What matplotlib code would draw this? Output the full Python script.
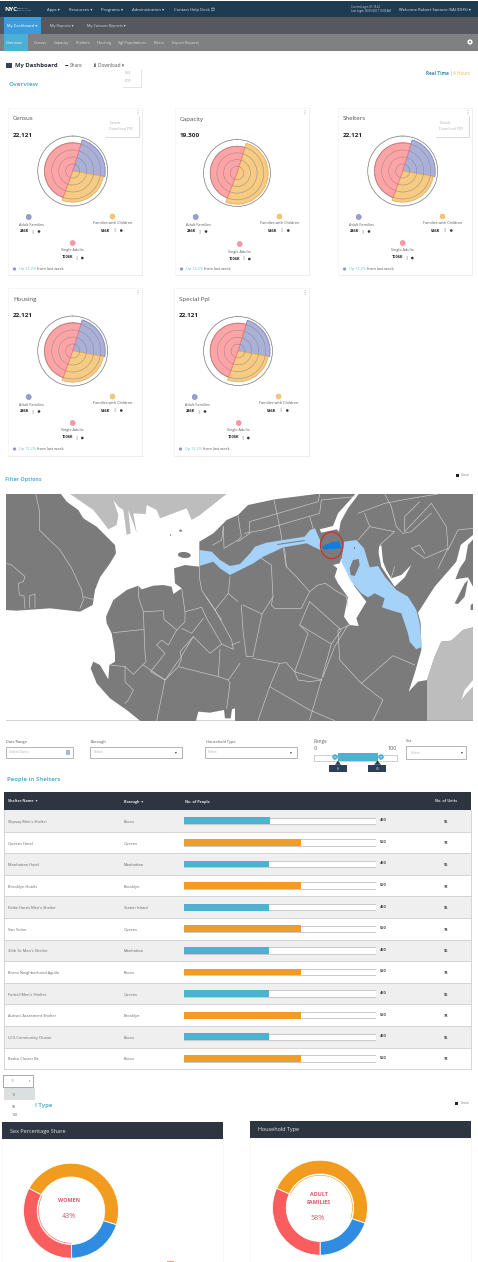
import matplotlib
matplotlib.use('Agg')
import matplotlib.pyplot as plt
from matplotlib.patches import Rectangle, Polygon, Ellipse, Circle
import numpy as np

plt.rcParams['font.family'] = ['Open Sans', 'DejaVu Sans']
W, H = 478, 1262

# ---- data ----
rose_titles = ['Census', 'Capacity', 'Shelters', 'Housing', 'Special Ppl']
rose_totals = ['22,121', '19,300', '22,121', '22,121', '22,121']
rose_start = 17
rose_adult_deg = [83, 0, 83, 83, 83]
rose_family_deg = [100, 184, 100, 100, 100]
rose_single_deg = [177, 176, 177, 177, 177]
rose_adult_r = [93, 93, 93, 93, 93]
rose_family_r = [89, 93, 89, 89, 89]
rose_single_r = [81, 80, 81, 81, 81]
legend_names = ['Adult Families', 'Families with Children', 'Single Adults']
legend_values = ['246K', '546K', '1006K']

shelter_names = ["Skyway Men's Shelter", 'Queens Hotel', 'Manhattan Hotel', 'Brooklyn Hotels',
                 "Eddie Harris Men's Shelter", 'Van Siclen', "30th St. Men's Shelter",
                 'Bronx Neighborhood Aguila', "Forbell Men's Shelter", 'Autistic Assesment Shelter',
                 'LCG Community Cluster', 'Bedco Cluster Bx']
shelter_boroughs = ['Bronx', 'Queens', 'Manhattan', 'Brooklyn', 'Staten Island', 'Queens',
                    'Manhattan', 'Bronx', 'Queens', 'Brooklyn', 'Bronx', 'Bronx']
shelter_people = [450, 550, 450, 550, 450, 550, 450, 550, 450, 550, 450, 550]
shelter_fill_pct = [44.6, 61, 44.4, 60.8, 44.3, 60.7, 44.2, 60.7, 44.2, 60.7, 44.3, 60.8]
shelter_units = [96, 78, 96, 78, 96, 78, 96, 78, 96, 78, 96, 78]

sex_share = [47, 20, 33]
household_share = [48.6, 19.7, 31.7]
donut_colors = ['#f29c1f', '#2f8ce0', '#f95d5d']

# ---- helpers ----
fig = plt.figure(figsize=(W / 100, H / 100), dpi=100, facecolor='white')
ax = fig.add_axes([0, 0, 1, 1], zorder=0)
ax.set_xlim(0, W); ax.set_ylim(H, 0); ax.axis('off')

def R(x0, y0, x1, y1, fc, ec='none', lw=0, z=1, target=None):
    (target or ax).add_patch(Rectangle((x0, y0), x1 - x0, y1 - y0, fc=fc, ec=ec, lw=lw, zorder=z))

def T(x, y, s, size=3, color='#444444', weight='normal', ha='left', z=5, target=None):
    (target or ax).text(x, y, s, fontsize=size, color=color, fontweight=weight, ha=ha, va='center', zorder=z)

def dot(x, y, r, fc, ec='none', lw=0, z=5):
    ax.add_patch(Ellipse((x, y), 2 * r, 2 * r, fc=fc, ec=ec, lw=lw, zorder=z))

def axes_px(x0, y0, x1, y1, **kw):
    return fig.add_axes([x0 / W, 1 - y1 / H, (x1 - x0) / W, (y1 - y0) / H], **kw)

TEAL = '#5bb5cf'
# ---- header ----
R(0, 1, W, 17, '#1f3b52')
R(0, 17, W, 34, '#55585c')
R(4, 17, 41, 34, '#3b9bdb', z=2)
R(0, 34, W, 51, '#7f8082')
R(4, 34, 28, 51, '#4cb0d6', z=2)
T(4, 9.2, 'NYC', 4.6, 'white', 'bold')
T(17.5, 8.4, 'Department of', 1.2, '#cfd8df')
T(17.5, 10.6, 'Homeless Services', 1.2, '#cfd8df')
for x, s in zip([47, 69, 101, 132, 174],
                ['Apps ▾', 'Resources ▾', 'Programs ▾', 'Administration ▾', 'Contact Help Desk ❐']):
    T(x, 9.6, s, 3.0, '#dfe6ea')
T(351, 7.4, 'Current Login: 01:15:22', 1.9, '#d8dfe4')
T(351, 11.4, 'Last Login: 06/05/2017 10:00 AM', 1.9, '#d8dfe4')
T(399, 9.6, 'Welcome Robert Santore (SA) (DHS) ▾', 3.0, '#e6ebee')
T(7, 26.3, 'My Dashboard ▾', 2.9, 'white', z=6)
T(50, 26.3, 'My Reports ▾', 2.8, '#d8d8d8')
T(87, 26.3, 'My Cutsom Reports ▾', 2.8, '#d8d8d8')
for x, s in zip([6, 34, 54, 76, 97, 118, 154, 172],
                ['Overview', 'Census', 'Capacity', 'Shelters', 'Housing', 'Sgl Populations', 'Filters', 'Export Reports']):
    T(x, 42.8, s, 2.8, 'white' if s == 'Overview' else '#dddddd', z=6)
dot(470, 42, 2.6, 'white'); dot(470, 42, 1, '#7f8082', z=6)

# ---- title row ----
R(6, 63, 12, 68, '#334455')
T(15, 66, 'My Dashboard', 4.2, '#222e3a', 'bold')
T(64.5, 65.4, '➦', 3.2, '#222222')
T(70, 65.4, 'Share', 3.4, '#555555')
T(92, 65.4, '⬇', 3.4, '#222222')
T(98, 65.4, 'Download ▾', 3.4, '#555555')
R(122.6, 70, 142, 88, '#e3e3e3', z=2)
R(122, 69, 141, 87, 'white', z=3)
T(125, 73.5, 'CSV', 2.6, '#aaaaaa')
T(125, 81.5, 'PDF', 2.6, '#aaaaaa')
T(426, 73.3, 'Real Time', 3.3, '#3f8fb5', 'bold')
T(450, 73.3, '|', 3.3, '#999999')
T(453, 73.3, '4 Hours', 3.3, '#efb655')
T(9, 85, 'Overview', 4.6, TEAL, 'bold')

# ---- rose cards ----
cards = [(8, 108, 142, 275), (175, 108, 309, 275), (338, 108, 472, 275),
         (8, 288, 142, 456), (174, 288, 309, 456)]
centres = [(72.7, 171, 35), (237, 173, 33.5), (402.7, 171, 35), (72.7, 351, 35), (238, 351, 34.5)]
oc = ['#aab0d8', '#f8cb82', '#ffa4a6']
ed = ['#7f85b8', '#efae52', '#f27777']
for i, (card, cen) in enumerate(zip(cards, centres)):
    x0, y0, x1, y1 = card
    R(x0 + .8, y0 + 1, x1 + .8, y1 + 1.2, '#dcdcdc', z=1)
    R(x0, y0, x1, y1, 'white', ec='#efefef', lw=.4, z=2)
    dx, dy = x0 - 8, y0 - 108
    T(13 + dx, 119 + dy, rose_titles[i], 4.4, '#4a4f55')
    T(13 + dx, 135 + dy, rose_totals[i], 4.6, '#222222', 'bold')
    for k in range(3):
        dot(x1 - 4, y0 + 2.5 + k * 1.8, .45, '#999999')
    if i in (0, 2):
        R(105.8 + dx, 115.8, 139.8 + dx, 137.6, '#d9d9d9', z=3)
        R(105 + dx, 115, 139 + dx, 137, 'white', z=4)
        T(110 + dx, 122.5, 'Details', 2.5, '#b0b0b0')
        T(109 + dx, 128.7, 'Download PDF', 2.5, '#b0b0b0')
    # legend
    ly = dy + (1 if i == 1 else 0)
    dot(28.7 + dx, 217 + dy, 2.5, '#9a9fd0', ec='#7b80b5', lw=.4)
    dot(112.5 + dx, 216.5 + dy, 2.5, '#f6c678', ec='#f0b860', lw=.4)
    dot(72.7 + dx, 243 + ly, 2.5, '#f59aa5', ec='#f08a95', lw=.4)
    T(31 + dx, 224.5 + dy, legend_names[0], 2.7, '#555555', ha='center')
    T(112.5 + dx, 223.5 + dy, legend_names[1], 2.7, '#555555', ha='center')
    T(72.5 + dx, 250.5 + ly, legend_names[2], 2.7, '#555555', ha='center')
    T(24.3 + dx, 231.5 + dy, legend_values[0], 2.8, '#222222', 'bold', ha='center')
    T(32.3 + dx, 231.5 + dy, '|', 2.8, '#333333', ha='center')
    dot(39 + dx, 231.5 + dy, 1.3, '#333333')
    T(105.5 + dx, 230.5 + dy, legend_values[1], 2.8, '#222222', 'bold', ha='center')
    T(114.3 + dx, 230.5 + dy, '|', 2.8, '#333333', ha='center')
    dot(121.3 + dx, 230.5 + dy, 1.3, '#333333')
    T(67.3 + dx, 257.5 + ly, legend_values[2], 2.8, '#222222', 'bold', ha='center')
    T(76 + dx, 257.5 + ly, '|', 2.8, '#333333', ha='center')
    dot(82.3 + dx, 258 + ly, 1.3, '#333333')
    # footer
    dot(14.5 + dx, 269 + dy, 1.6, '#8f96c0')
    T(19 + dx, 269.4 + dy, 'Up 12.2%', 2.8, '#62c4c4')
    T(37 + dx, 269.4 + dy, 'from last week', 2.8, '#555555')
    # polar rose
    cx, cy, rad = cen
    pa = axes_px(cx - rad, cy - rad, cx + rad, cy + rad, projection='polar', zorder=3)
    pa.set_facecolor('none')
    pa.set_theta_zero_location('N'); pa.set_theta_direction(-1)
    starts = np.cumsum([rose_start, rose_adult_deg[i], rose_family_deg[i]])
    widths = [rose_adult_deg[i], rose_family_deg[i], rose_single_deg[i]]
    radii = [rose_adult_r[i], rose_family_r[i], rose_single_r[i]]
    for s, wd, r, c, e in zip(starts, widths, radii, oc, ed):
        if wd > 0:
            pa.bar(np.deg2rad(s), r, width=np.deg2rad(wd), align='edge', color=c, edgecolor=e, linewidth=.6)
    pa.set_ylim(0, 100)
    pa.set_yticks([20, 40, 60, 80, 100]); pa.set_yticklabels([])
    pa.set_xticks([])
    pa.set_axisbelow(False)
    pa.grid(True, color='#8a8a8a', lw=.35)
    pa.spines['polar'].set_color('#8a8a8a'); pa.spines['polar'].set_linewidth(.5)

# ---- filter options ----
R(4, 467.6, 472, 468.4, '#9a9a9a')
T(5, 479, 'Filter Options', 3.9, TEAL, 'bold')
R(456, 473.5, 459, 476.5, '#222222')
T(461, 475.2, 'Close', 2.5, '#777777')

# ---- map backdrop (geographic shapes in a 3x grid anchored on the map) ----
def G(pts):
    return [(x / 3, 490 + y / 3) for x, y in pts]
def g9(pts):
    return [(x + 714, y) for x, y in pts]

GRAY = '#7b7b7b'; LG = '#bdbdbd'; LB = '#a4d2f8'; MAPW = 'white'
R(6, 494, 473, 720.6, GRAY, z=1)
def poly(pts, fc, z=2, ec='none', lw=0):
    ax.add_patch(Polygon(G(pts), closed=True, fc=fc, ec=ec, lw=lw, zorder=z))

water = [(183,12),(200,35),(235,60),(250,85),(290,110),(320,140),(345,165),(348,190),(330,220),(300,262),
         (285,300),(278,345),(240,365),(150,355),(50,362),(18,360),(18,692),(420,692),(380,660),(330,625),
         (290,580),(272,535),(280,515),(300,525),(325,568),(328,525),(345,515),(345,490),(335,430),(320,400),
         (318,380),(340,330),(380,300),(415,287),(425,298),(460,287),(490,285),(515,290),(520,312),(545,295),
         (525,280),(522,235),(555,225),(598,230),(598,155),(640,130),(680,90),(714,75),(744,45),(824,28),(949,12)]
poly(water, MAPW)
poly([(210,12),(280,60),(300,85),(325,118),(350,105),(355,75),(340,30),(355,50),(370,60),(380,135),(392,130),
      (385,60),(410,128),(400,70),(437,72),(440,45),(470,60),(480,85),(560,55),(575,90),(600,75),(680,12)], LG, 3)
poly([(588,692),(595,665),(630,668),(672,660),(675,685),(692,685),(696,658),(705,655),(705,692)], MAPW)
ax.add_patch(Ellipse(G([(553,195)])[0], 13, 6, angle=5, fc=GRAY, zorder=3))
ax.add_patch(Ellipse(G([(512,135)])[0], 1, 2, fc=GRAY, zorder=3))
ax.add_patch(Ellipse(G([(542,122)])[0], 3, 2, fc=GRAY, zorder=3))
# east water
poly(g9([(512,605),(530,550),(550,480),(548,400),(540,368),(558,340),(590,290),(625,250),(655,215),(668,165),
         (705,135),(705,148),(690,165),(682,210),(665,235),(652,268),(690,262),(705,290),(705,412),(675,420),
         (640,452),(610,455),(590,500),(567,570),(540,575)]), MAPW)
poly(g9([(650,340),(680,280),(690,270),(680,320),(660,342)]), GRAY, 3)
poly(g9([(698,345),(705,340),(705,360),(698,360)]), GRAY, 3)
poly(g9([(567,692),(567,570),(590,500),(610,455),(640,452),(675,420),(705,412),(705,692)]), LG, 3)
poly(g9([(670,630),(680,600),(705,570),(705,590),(685,610)]), MAPW, 4)
# inlets
poly(g9([(285,225),(305,220),(310,205),(330,240),(350,290),(385,335),(370,360),(355,385),(362,408),(335,405),
         (318,380),(325,345),(330,322),(300,280),(290,260),(298,235)]), MAPW, 3)
poly(g9([(352,12),(362,12),(330,55),(308,95),(303,125),(296,118),(250,128),(245,118),(285,108),(300,70)]), MAPW, 3)
poly(g9([(423,170),(430,165),(435,215),(445,240),(460,265),(490,255),(520,225),(500,262),(470,290),(430,230),(422,190)]), MAPW, 3)

# rivers
river_w = [(598,180),(635,185),(660,210),(690,228),(720,222),(750,190),(765,170),(800,158),(914,140),(930,120),
           (945,115),(960,150),(965,182),(940,170),(920,160),(850,172),(790,200),(760,220),(720,240),(690,255),
           (660,235),(640,215),(598,228)]
poly(river_w, LB, 4)
poly(g9([(118,162),(200,150),(200,153),(118,165)]), GRAY, 5)
river_e = [(318,155),(355,150),(378,175),(395,232),(420,228),(440,260),(475,300),(510,320),(535,360),(545,400),
           (552,470),(535,478),(515,455),(510,430),(490,370),(462,362),(432,352),(440,325),(410,310),(390,322),
           (370,310),(340,275),(310,215)]
poly(g9(river_e), LB, 4)
poly(g9([(335,235),(345,210),(362,207),(365,225),(350,258),(338,255)]), GRAY, 5)
poly(g9([(347,170),(352,170),(352,176),(347,176)]), GRAY, 5)

# borough boundaries
lines8 = [
 [(107,12),(118,60),(118,120),(180,180),(215,235),(245,300),(250,330),(240,355)],
 [(250,320),(278,328)],
 [(18,220),(35,225),(75,260),(70,275),(55,280),(58,315),(72,318),(75,355)],
 [(88,352),(88,318),(105,312),(105,352)],
 [(415,287),(415,320),(430,365),(435,490),(438,515),(400,553),(375,530),(330,525)],
 [(340,428),(432,418)],
 [(432,365),(490,362),(492,388),(530,420),(505,465),(485,450),(470,465),(495,490),(452,545),(495,570),(540,505),(580,440),(630,490),(665,462),(620,385),(605,352),(555,365),(545,295)],
 [(555,365),(555,395),(530,420)],
 [(545,415),(575,430),(610,385)],
 [(598,230),(598,260),(605,300),(618,320),(665,390)],
 [(618,320),(645,360),(685,310),(690,260)],
 [(645,360),(695,450),(700,478),(665,462)],
 [(695,465),(720,455)],
 [(660,478),(655,560),(535,530),(545,505),(540,485),(580,440)],
 [(535,530),(495,570),(470,692)],
 [(375,530),(375,575),(400,600),(385,630),(375,640)],
 [(430,525),(495,570)],
 [(655,560),(685,570),(690,580),(680,655)],
 [(685,570),(720,520)],
 [(685,310),(714,335)],
 [(638,165),(665,150),(670,110)],
 [(670,110),(672,175),(714,150)],
]
lines9 = [
 [(70,205),(100,225),(105,320),(100,345),(110,355),(190,355),(215,305),(240,285),(262,280),(290,300),(325,320),(330,350)],
 [(105,320),(72,372),(15,345)],
 [(10,345),(15,420),(25,500)],
 [(72,372),(60,430),(45,500),(25,500)],
 [(215,335),(310,420),(280,462),(185,405),(215,335)],
 [(140,175),(145,230),(175,260),(215,305)],
 [(185,405),(210,430),(190,490),(170,545)],
 [(280,462),(250,570),(215,690)],
 [(45,505),(125,520),(95,590),(60,692)],
 [(125,520),(145,518),(170,545),(250,570)],
 [(95,590),(215,660),(290,692)],
 [(170,545),(180,570),(215,575),(250,570)],
 [(335,405),(300,420),(305,510),(370,580),(435,630),(405,692)],
 [(370,580),(465,497),(530,525)],
 [(330,405),(290,470),(255,560)],
 [(0,78),(10,140),(0,150)],
 [(108,30),(125,110),(145,230)],
 [(0,155),(35,130),(35,95),(240,35),(245,12)],
 [(20,130),(75,120),(125,105),(245,70),(250,30),(350,20)],
 [(215,80),(225,115)],
 [(360,70),(440,40),(520,25),(600,12)],
 [(440,12),(460,50),(475,110),(495,130)],
 [(380,70),(395,110),(360,150)],
 [(395,110),(470,125),(425,165)],
 [(545,35),(500,80),(500,125),(580,40),(600,70),(625,110),(630,175),(560,205),(520,175),(545,165),(560,190)],
 [(495,130),(520,125),(580,70)],
 [(630,175),(600,235)],
 [(630,180),(660,120),(705,115)],
 [(470,230),(460,262)],
]
for ln in lines8:
    ax.plot(*zip(*G(ln)), color='#cfcfcf', lw=.45, zorder=3.5, solid_joinstyle='round')
for ln in lines9:
    ax.plot(*zip(*G(g9(ln))), color='#cfcfcf', lw=.45, zorder=3.5, solid_joinstyle='round')
# highlighted selection
poly(g9([(252,168),(275,160),(285,155),(305,155),(310,175),(255,178)]), '#0f7ce3', 6)
ex, ey = G(g9([(281, 166)]))[0]
ax.add_patch(Ellipse((ex, ey), 22.5, 26.5, fc='none', ec='#c4342b', lw=.9, zorder=7))

# ---- filter controls ----
def box(x0, y0, x1, y1):
    R(x0, y0, x1, y1, 'white', ec='#a8a8a8', lw=.6, z=2)
for x, y, s in [(6, 741.5, 'Date Range'), (91, 741.5, 'Borough'), (206, 741.5, 'Household Type')]:
    T(x, y, s, 2.8, '#555555')
T(314, 741.5, 'Range', 3.3, '#666666')
T(406, 740.5, 'Sex', 2.8, '#555555')
box(6.5, 746.5, 73.5, 757.5); box(90.5, 746.5, 182, 757.5); box(205.5, 746.5, 297, 758); box(406.5, 745.5, 466, 759)
T(9, 752.3, 'Select Dates', 2.5, '#b0b0b0')
T(94, 752.3, 'Select', 2.5, '#b0b0b0')
T(208, 752.3, 'Select', 2.5, '#b0b0b0')
T(411, 752.5, 'Select', 2.5, '#b0b0b0')
R(66.5, 750, 70, 755, '#a9bccb', z=3)
for x, y in [(176, 752.5), (291, 752.5), (462, 752.5)]:
    T(x, y, '▾', 2.6, '#333333', ha='center')
T(315, 749, '0', 4, '#666666', ha='center')
T(392, 749, '100', 4, '#666666', ha='center')
R(314, 754.5, 397.5, 760.5, 'white', ec='#bdbdbd', lw=.5, z=2)
R(338, 753, 378, 760.5, '#4fb1d0', z=3)
for x, lab in zip([335, 381], ['8', '65']):
    dot(x, 757, 2.3, '#63bcdc', ec='#2f8fb5', lw=.4, z=4)
    dot(x, 757, 1, 'white', ec='#2f8fb5', lw=.3, z=5)
R(329, 764.5, 347, 772, '#2b3f57', z=3)
R(368, 764.5, 386, 772, '#2b3f57', z=3)
T(338, 768.5, '8', 2.6, '#cfd8df', ha='center')
T(377.5, 768.5, '65', 2.6, '#cfd8df', ha='center')
ax.add_patch(Polygon([(335, 764.8), (341, 764.8), (338, 760.5)], fc='#2b3f57', zorder=3))
ax.add_patch(Polygon([(374, 764.8), (381, 764.8), (377.5, 760.5)], fc='#2b3f57', zorder=3))
T(7.5, 779, 'People in Shelters', 4.3, TEAL, 'bold')

# ---- table ----
TOP, ROW = 810, 21.6
R(4, 792, 471, 810, '#2c3540')
T(8, 801.5, 'Shelter Name  ▾', 2.7, '#e6e6e6', 'bold')
T(124, 801.5, 'Borough  ▾', 2.7, '#e6e6e6', 'bold')
T(185, 801.5, 'No. of People', 2.7, '#e6e6e6', 'bold')
T(446, 801.5, 'No. of Units', 2.7, '#d6d6d6', 'bold', ha='center')
n = len(shelter_names)
for i in range(n):
    y0 = TOP + ROW * i; yc = y0 + ROW / 2 + 1
    R(4, y0, 471, y0 + ROW, '#efefef' if i % 2 == 0 else 'white', z=1)
    ax.plot([4, 471], [y0 + ROW, y0 + ROW], color='#cfcfcf', lw=.6, zorder=2)
    T(8, yc, shelter_names[i], 2.8, '#666666')
    T(124, yc, shelter_boroughs[i], 2.8, '#666666')
    T(380, yc - 1.5, str(shelter_people[i]), 2.8, '#444444', 'bold')
    T(446, yc, str(shelter_units[i]), 2.8, '#444444', 'bold', ha='center')
ax.plot([4, 4], [810, TOP + ROW * n], color='#cfcfcf', lw=.6, zorder=2)
ax.plot([471, 471], [810, TOP + ROW * n], color='#cfcfcf', lw=.6, zorder=2)

bar_ax = axes_px(184, TOP, 376, TOP + ROW * n, zorder=2)
bar_ax.axis('off'); bar_ax.patch.set_alpha(0)
rows = np.arange(n)
bar_ax.barh(rows, [100] * n, height=.3, color='white', edgecolor='#b5b5b5', linewidth=.5)
bar_ax.barh(rows, shelter_fill_pct, height=.31,
            color=['#4fb1d0' if i % 2 == 0 else '#f29c28' for i in rows])
bar_ax.set_xlim(0, 100); bar_ax.set_ylim(n - .5, -.5)

# ---- bottom controls ----
R(3.5, 1075.3, 33.5, 1086.5, 'white', ec='#9a9a9a', lw=.6, z=2)
T(11, 1081.3, '10', 2.4, '#aaaaaa')
T(29.5, 1081, '▾', 2, '#777777', ha='center')
R(4, 1093.6, 472, 1094.4, '#a8a8a8', z=1)
T(52, 1105, 'l Type', 4.3, TEAL, 'bold', ha='right', z=2)
R(4, 1088, 35, 1122, 'white', z=3)
R(4, 1088, 35, 1100, '#dcdfe0', z=4)
T(12, 1094.5, '10', 2.5, '#555555')
T(12, 1106.5, '50', 2.5, '#555555')
T(12, 1115.5, '100', 2.5, '#555555')
R(455.5, 1101.8, 458.5, 1104.8, '#222222')
T(461, 1103.5, 'Close', 2.5, '#777777')
R(2, 1122, 223, 1139, '#2c3540', z=4)
R(250, 1121, 471, 1138, '#2c3540', z=4)
T(10, 1131, 'Sex Percentage Share', 4.0, '#e8e8e8', z=6)
T(258, 1130, 'Household Type', 4.0, '#e8e8e8', z=6)
R(2, 1139, 223, 1262, 'white', ec='#f3f3f3', lw=.4, z=1)
R(250, 1138, 471, 1262, 'white', ec='#f3f3f3', lw=.4, z=1)
R(167, 1260.5, 174, 1262, '#e8a93a', z=3)

def donut(cx, cy, values, start, sel):
    rad = 49
    d = axes_px(cx - rad, cy - rad, cx + rad, cy + rad, zorder=3)
    d.patch.set_alpha(0)
    scale = 47.5 / rad
    d.pie(values, colors=donut_colors, startangle=start, counterclock=False, radius=scale,
          wedgeprops=dict(width=scale * .29, edgecolor='white', linewidth=.6))
    d.pie(values, colors=[c if i == sel else 'none' for i, c in enumerate(donut_colors)],
          startangle=start, counterclock=False, radius=scale * .69,
          wedgeprops=dict(width=.012, edgecolor='none'))
    d.set_xlim(-1, 1); d.set_ylim(-1, 1); d.axis('off')

donut(71, 1210.7, sex_share, 152, 2)
donut(320, 1207.7, household_share, 156, 0)

over = fig.add_axes([0, 0, 1, 1], zorder=10)
over.set_xlim(0, W); over.set_ylim(H, 0); over.axis('off'); over.patch.set_alpha(0)
RED = '#d9586a'
T(68.7, 1200.5, 'WOMEN', 3.9, RED, 'bold', ha='center', target=over)
T(69, 1217, '43%', 5.2, RED, ha='center', target=over)
T(318.5, 1195, 'ADULT', 3.9, RED, 'bold', ha='center', target=over)
T(318.5, 1203, 'FAMILIES', 3.9, RED, 'bold', ha='center', target=over)
T(317.5, 1218, '58%', 5.2, RED, ha='center', target=over)

fig.savefig('out.png', dpi=100)
